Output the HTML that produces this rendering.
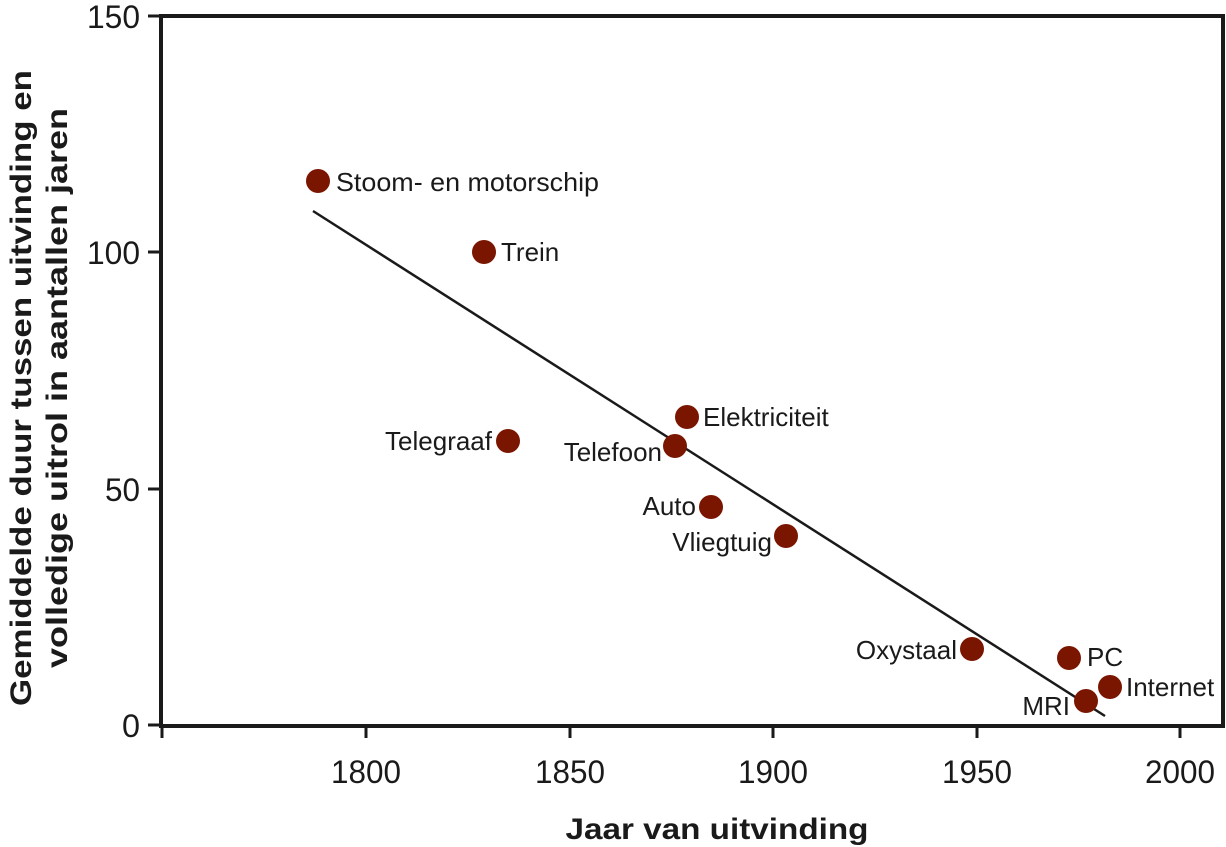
<!DOCTYPE html>
<html><head><meta charset="utf-8"><style>body{margin:0;background:#fff}svg{display:block}</style></head><body>
<svg width="1226" height="847" xmlns="http://www.w3.org/2000/svg" font-family="Liberation Sans, Arial, sans-serif" fill="#1a1a1a">
<rect x="161" y="16" width="1062" height="710" fill="none" stroke="#1a1a1a" stroke-width="4"/>
<g stroke="#1a1a1a" stroke-width="3">
<line x1="148" y1="16" x2="161" y2="16"/><line x1="148" y1="252" x2="161" y2="252"/><line x1="148" y1="489" x2="161" y2="489"/><line x1="148" y1="725" x2="161" y2="725"/>
<line x1="162" y1="726" x2="162" y2="738"/><line x1="366" y1="726" x2="366" y2="738"/><line x1="570" y1="726" x2="570" y2="738"/><line x1="773" y1="726" x2="773" y2="738"/><line x1="977" y1="726" x2="977" y2="738"/><line x1="1180" y1="726" x2="1180" y2="738"/>
</g>
<g font-size="32" text-anchor="end" lengthAdjust="spacingAndGlyphs">
<text x="140" y="28" textLength="53" lengthAdjust="spacingAndGlyphs">150</text><text x="140" y="264" textLength="53" lengthAdjust="spacingAndGlyphs">100</text><text x="140" y="501" textLength="35" lengthAdjust="spacingAndGlyphs">50</text><text x="140" y="737" textLength="18" lengthAdjust="spacingAndGlyphs">0</text>
</g>
<g font-size="32" text-anchor="middle">
<text x="366" y="783" textLength="70" lengthAdjust="spacingAndGlyphs">1800</text><text x="570" y="783" textLength="70" lengthAdjust="spacingAndGlyphs">1850</text><text x="773" y="783" textLength="70" lengthAdjust="spacingAndGlyphs">1900</text><text x="977" y="783" textLength="70" lengthAdjust="spacingAndGlyphs">1950</text><text x="1180" y="783" textLength="70" lengthAdjust="spacingAndGlyphs">2000</text>
</g>
<text x="717" y="839" font-size="30" font-weight="bold" text-anchor="middle" textLength="303" lengthAdjust="spacingAndGlyphs">Jaar van uitvinding</text>
<g font-size="30" font-weight="bold" text-anchor="middle">
<text transform="translate(31,388) rotate(-90)" textLength="636" lengthAdjust="spacingAndGlyphs">Gemiddelde duur tussen uitvinding en</text>
<text transform="translate(67,388) rotate(-90)" textLength="560" lengthAdjust="spacingAndGlyphs">volledige uitrol in aantallen jaren</text>
</g>
<line x1="313" y1="211" x2="1105" y2="716" stroke="#1a1a1a" stroke-width="2.5"/>
<g fill="#7a1500">
<circle cx="318" cy="181" r="12"/><circle cx="484" cy="252" r="12"/><circle cx="508" cy="441" r="12"/><circle cx="675" cy="446" r="12"/><circle cx="687" cy="417" r="12"/><circle cx="711" cy="507" r="12"/><circle cx="786" cy="536" r="12"/><circle cx="972" cy="649" r="12"/><circle cx="1069" cy="658" r="12"/><circle cx="1086" cy="701" r="12"/><circle cx="1110" cy="687" r="12"/>
</g>
<g font-size="26">
<text x="336" y="191" textLength="263" lengthAdjust="spacingAndGlyphs">Stoom- en motorschip</text>
<text x="501" y="261">Trein</text>
<text x="703" y="426">Elektriciteit</text>
<text x="1087" y="666">PC</text>
<text x="1126" y="696">Internet</text>
</g>
<g font-size="26" text-anchor="end">
<text x="492" y="450">Telegraaf</text>
<text x="662" y="461">Telefoon</text>
<text x="696" y="515">Auto</text>
<text x="772" y="551">Vliegtuig</text>
<text x="957" y="659">Oxystaal</text>
<text x="1070" y="715">MRI</text>
</g>
</svg>
</body></html>
